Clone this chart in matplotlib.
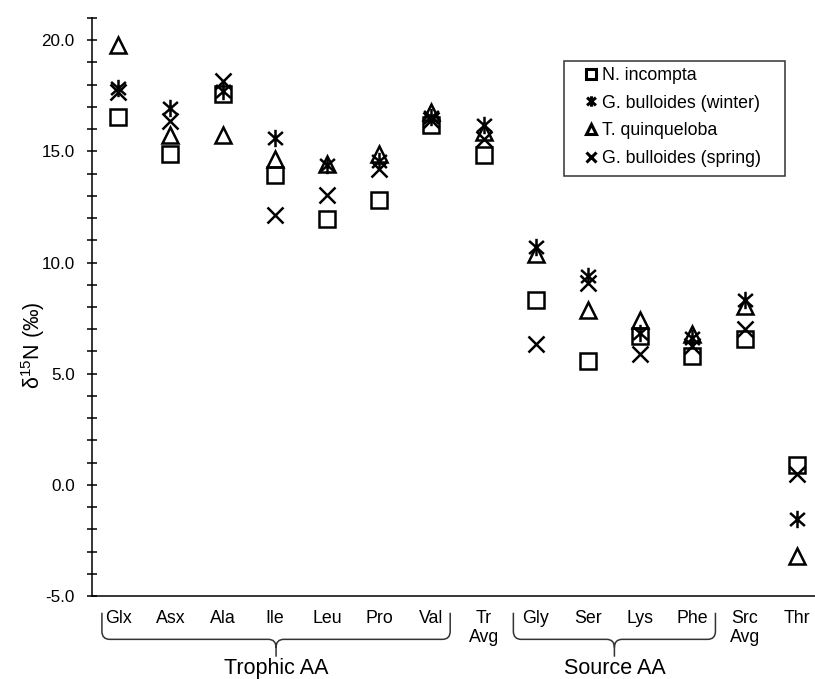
import numpy as np
import matplotlib
matplotlib.use("Agg")
import matplotlib.pyplot as plt
from matplotlib.path import Path
from matplotlib.patches import PathPatch, Rectangle
from matplotlib.ticker import MultipleLocator, FormatStrFormatter

# ── Data ────────────────────────────────────────────────────────────────
categories = ["Glx", "Asx", "Ala", "Ile", "Leu", "Pro", "Val", "Tr\nAvg",
              "Gly", "Ser", "Lys", "Phe", "Src\nAvg", "Thr"]

n_incompta   = [16.55, 14.9, 17.6, 13.95, 11.95, 12.8, 16.2, 14.85,
                8.3, 5.55, 6.7, 5.8, 6.55, 0.88]
bull_winter  = [17.85, 16.95, 17.7, 15.6, 14.4, 14.55, 16.55, 16.2,
                10.7, 9.4, 6.85, 6.6, 8.3, -1.55]
t_quinquelob = [19.8, 15.75, 15.75, 14.65, 14.45, 14.9, 16.75, 15.85,
                10.4, 7.85, 7.4, 6.8, 8.05, -3.2]
bull_spring  = [17.65, 16.35, 18.15, 12.15, 13.05, 14.2, 16.4, 15.55,
                6.35, 9.1, 5.9, 6.25, 7.0, 0.5]

trophic_idx = [0, 6]    # Glx .. Val
source_idx  = [8, 11]   # Gly .. Phe

# ── Style ───────────────────────────────────────────────────────────────
plt.rcParams.update({
    "font.family": ["Liberation Sans", "DejaVu Sans"],
    "font.size": 12,
    "mathtext.default": "regular",
    "axes.linewidth": 1.1,
})

# asterisk-like marker: X plus vertical bar
ast_verts = [(-0.85, -0.75), (0.85, 0.75), (-0.85, 0.75), (0.85, -0.75),
             (0, -1.0), (0, 1.0)]
ast_codes = [Path.MOVETO, Path.LINETO] * 3
ASTERISK = Path(ast_verts, ast_codes)

fig = plt.figure(figsize=(8.15, 6.79), dpi=100)
W, H = 815, 679
ax_left, ax_right = 92, 823
ax_top, ax_bot = 18, 596
ax = fig.add_axes([ax_left / W, 1 - ax_bot / H,
                   (ax_right - ax_left) / W, (ax_bot - ax_top) / H])

x = np.arange(len(categories))
common = dict(linestyle="none", markerfacecolor="none",
              markeredgecolor="black", markeredgewidth=1.8)

ax.plot(x, n_incompta, marker="s", markersize=11.5, label="N. incompta", **common)
ax.plot(x, bull_winter, marker=ASTERISK, markersize=12.5,
        label="G. bulloides (winter)", **common)
ax.plot(x, t_quinquelob, marker="^", markersize=11.5,
        label="T. quinqueloba", **common)
ax.plot(x, bull_spring, marker="x", markersize=11,
        label="G. bulloides (spring)", **common)

ax.set_xlim(-0.5, 13.5)
ax.set_ylim(-5, 21)

ax.yaxis.set_major_locator(MultipleLocator(5))
ax.yaxis.set_minor_locator(MultipleLocator(1))
ax.yaxis.set_major_formatter(FormatStrFormatter("%.1f"))
ax.tick_params(axis="y", which="both", direction="inout", length=7,
               width=1.1, labelsize=12.3, pad=9)
ax.set_xticks(x)
ax.set_xticklabels(categories, fontsize=12.8, linespacing=1.15)
ax.tick_params(axis="x", length=0, pad=10)

ax.spines["top"].set_visible(False)
ax.spines["right"].set_visible(False)

fig.text(33 / W, 1 - 345 / H, "δ$^{15}$N (‰)", rotation=90,
         ha="center", va="center", fontsize=15.5)

# legend without its own frame, plus a box drawn around it
leg = ax.legend(loc="upper left", bbox_to_anchor=(586 / W, 1 - 67 / H),
                bbox_transform=fig.transFigure, borderaxespad=0, borderpad=0,
                fontsize=12.8, markerscale=0.6, handlelength=0.6,
                handletextpad=0.3, labelspacing=0.6, frameon=False)
for h in leg.legend_handles:
    h.set_markeredgewidth(2.2)
fig.add_artist(Rectangle((564 / W, 1 - 176 / H), 221 / W, 115 / H,
                         transform=fig.transFigure, fill=False,
                         edgecolor="#333333", linewidth=1.1))

# ── Group brackets below the category labels ─────────────────────────────
def bracket(ax, i0, i1, pl, pr, text):
    xl, xr = i0 - pl, i1 + pr
    xc = (xl + xr) / 2
    y_top, y_h, y_stem = -0.029, -0.075, -0.105
    dx, r = 0.15, 0.014
    verts = [(xl, y_top), (xl, y_h + r), (xl, y_h), (xl + dx, y_h),
             (xc - dx, y_h), (xc, y_h), (xc, y_h - r), (xc, y_stem),
             (xc, y_h - r), (xc, y_h), (xc + dx, y_h),
             (xr - dx, y_h), (xr, y_h), (xr, y_h + r), (xr, y_top)]
    codes = [Path.MOVETO, Path.LINETO, Path.CURVE3, Path.CURVE3,
             Path.LINETO, Path.CURVE3, Path.CURVE3, Path.LINETO,
             Path.MOVETO, Path.CURVE3, Path.CURVE3,
             Path.LINETO, Path.CURVE3, Path.CURVE3, Path.LINETO]
    patch = PathPatch(Path(verts, codes), fill=False, edgecolor="#333333",
                      linewidth=1.1, transform=ax.get_xaxis_transform(),
                      clip_on=False)
    ax.add_patch(patch)
    ax.text(xc, -0.126, text, transform=ax.get_xaxis_transform(),
            ha="center", va="center", fontsize=15.5)

bracket(ax, trophic_idx[0], trophic_idx[1], 0.31, 0.36, "Trophic AA")
bracket(ax, source_idx[0], source_idx[1], 0.43, 0.44, "Source AA")

fig.savefig("out.png", dpi=100, facecolor="white")
